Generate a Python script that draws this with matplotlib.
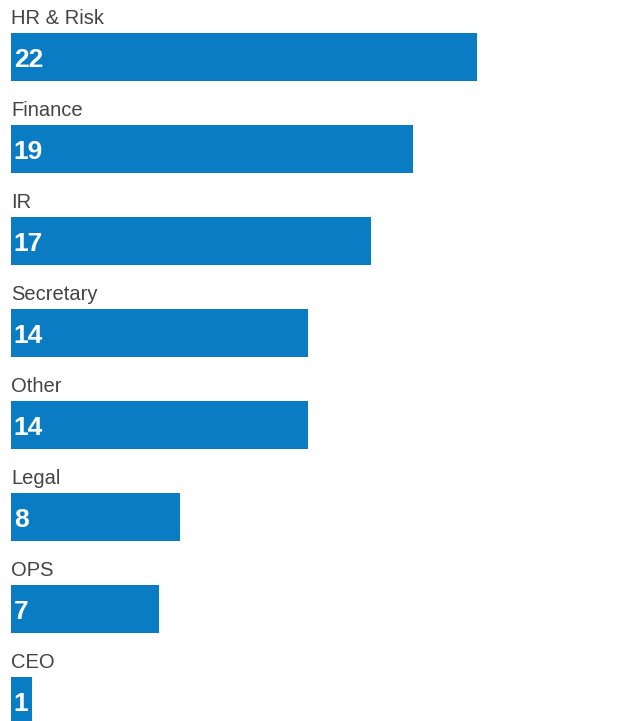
import matplotlib.pyplot as plt
import numpy as np

# departments and counts, top to bottom
labels = ['HR & Risk', 'Finance', 'IR', 'Secretary', 'Other', 'Legal', 'OPS', 'CEO']
counts = [22, 19, 17, 14, 14, 8, 7, 1]

fig = plt.figure(figsize=(6.18, 7.21), dpi=100)
ax = fig.add_axes([0, 0, 1, 1])

pos = np.arange(len(labels))
ax.barh(pos, counts, height=0.52, color='#0a7cc4', align='center')

for i, (lab, v) in enumerate(zip(labels, counts)):
    # category name above the bar
    ax.annotate(lab, (0, i), xytext=(0, 28), textcoords='offset points',
                ha='left', va='center', fontsize=14.5, color='#444444',
                family='Liberation Sans')
    # value inside the bar
    ax.annotate(str(v), (0, i), xytext=(2, -2), textcoords='offset points',
                ha='left', va='center', fontsize=19, color='white',
                fontweight='bold', family='Liberation Sans')

# 0 at x=11px, 22 at x=477px
ax.set_xlim(-11 * 22 / 466, (618 - 11) * 22 / 466)
ax.set_ylim((721 - 57) / 92, -57 / 92)
ax.axis('off')

fig.savefig('out.png', dpi=100)
